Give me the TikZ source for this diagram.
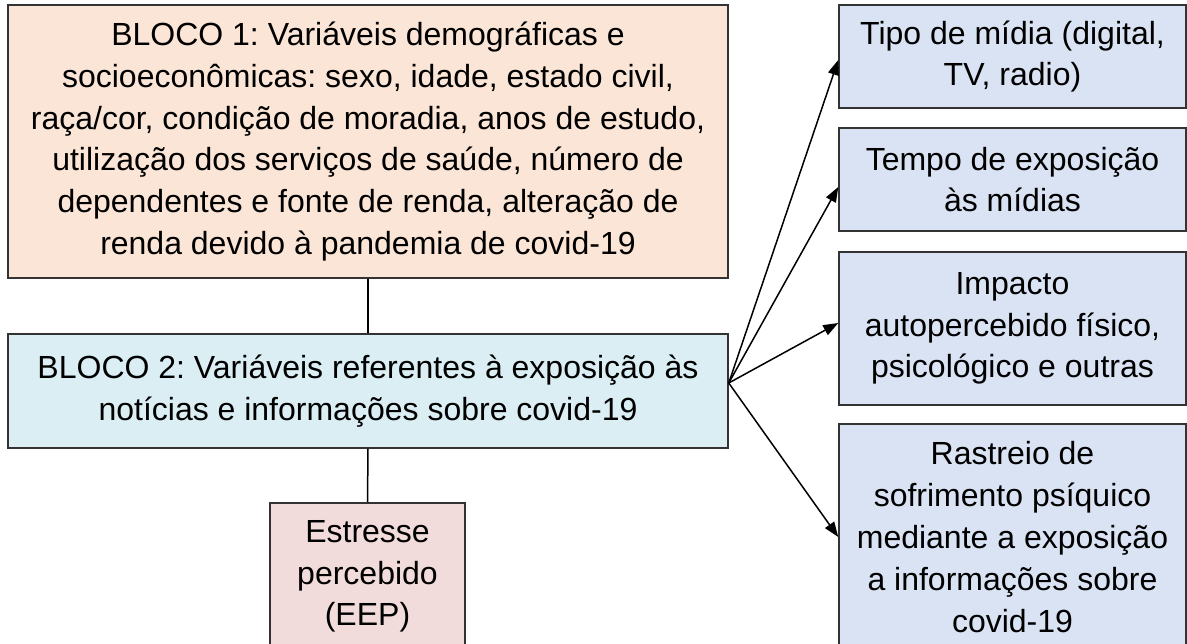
\documentclass[tikz,border=0pt]{standalone}
\usepackage{fontspec}
\setmainfont{Liberation Sans}
\usetikzlibrary{arrows.meta}
\definecolor{peach}{HTML}{FBE5D6}
\definecolor{lcyan}{HTML}{DAEEF3}
\definecolor{lblue}{HTML}{DAE3F3}
\definecolor{lpink}{HTML}{F2DCDB}
\frenchspacing
\begin{document}
\begin{tikzpicture}[x=1pt,y=-1pt,
  box/.style={draw=black!80, line width=1.5pt, inner sep=0pt, align=center,
    font=\fontsize{32}{41.8}\selectfont, text=black},
  arr/.style={line width=1.5pt, -{Triangle[length=15pt,width=11pt]}},
  ln/.style={line width=1.5pt}]
\useasboundingbox (0,0) rectangle (1187,644);
\node[box, fill=peach, minimum width=720pt, minimum height=273pt] (B1) at (368,141.5)
  {BLOCO 1: Variáveis demográficas e\\socioeconômicas: sexo, idade, estado civil,\\raça/cor, condição de moradia, anos de estudo,\\utilização dos serviços de saúde, número de\\dependentes e fonte de renda, alteração de\\renda devido à pandemia de covid-19};
\node[box, fill=lcyan, minimum width=720pt, minimum height=114pt] (B2) at (368,391)
  {BLOCO 2: Variáveis referentes à exposição às\\notícias e informações sobre covid-19};
\node[box, fill=lpink, minimum width=195pt, minimum height=147pt] (E) at (367.5,576.5)
  {Estresse\\percebido\\(EEP)};
\node[box, fill=lblue, minimum width=347pt, minimum height=103pt] (A) at (1012.5,56.5)
  {Tipo de mídia (digital,\\TV, radio)};
\node[box, fill=lblue, minimum width=347pt, minimum height=103pt] (B) at (1012.5,179.5)
  {Tempo de exposição\\às mídias};
\node[box, fill=lblue, minimum width=347pt, minimum height=153pt] (C) at (1012.5,328.5)
  {Impacto\\autopercebido físico,\\psicológico e outras};
\node[box, fill=lblue, minimum width=347pt, minimum height=226pt] (D) at (1012.5,537)
  {Rastreio de\\sofrimento psíquico\\mediante a exposição\\a informações sobre\\covid-19};
\draw[ln] (B1.south) -- (B2.north);
\draw[ln] (B2.south) -- (E.north);
\coordinate (src) at ([yshift=8pt]B2.east);
\draw[arr] (src) -- ([yshift=-3.5pt]A.west);
\draw[arr] (src) -- ([yshift=-7.5pt]B.west);
\draw[arr] (src) -- ([yshift=5.5pt]C.west);
\draw[arr] (src) -- (D.west);
\end{tikzpicture}
\end{document}
